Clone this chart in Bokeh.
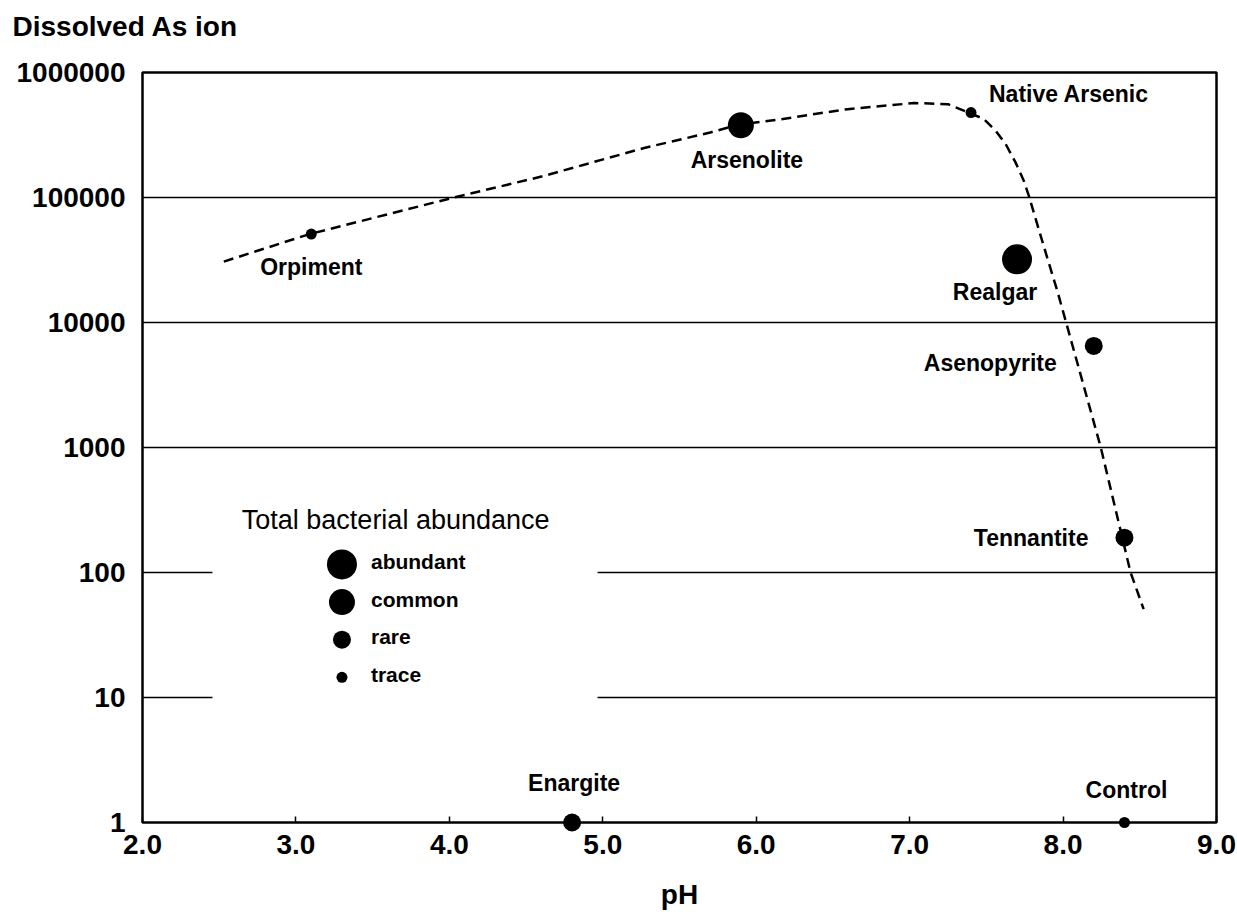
from bokeh.plotting import figure
from bokeh.models import FixedTicker, NumeralTickFormatter, Range1d, ColumnDataSource
from bokeh.core.properties import value
from bokeh.embed import file_html
from bokeh.resources import INLINE

# ---------------- data ----------------
minerals = ["Orpiment", "Arsenolite", "Native Arsenic", "Realgar",
            "Asenopyrite", "Tennantite", "Enargite", "Control"]
ph = [3.1, 5.9, 7.4, 7.7, 8.2, 8.4, 4.8, 8.4]
dissolved_as = [51000, 378000, 478000, 32000, 6500, 190, 1, 1]
abundance = ["trace", "common", "trace", "abundant", "rare", "rare", "rare", "trace"]

curve_ph = [2.53, 3.09, 4.03, 4.60, 5.27, 5.70, 5.89, 6.15, 6.58, 7.03,
            7.25, 7.385, 7.483, 7.56, 7.625, 7.69, 7.744, 7.777, 7.831,
            7.896, 7.962, 8.016, 8.245, 8.44, 8.525]
curve_as = [30700, 51000, 100000, 147000, 249000, 331000, 384000, 421000,
            506000, 570000, 558000, 478000, 425000, 343000, 269000, 191000,
            136000, 103000, 61500, 33200, 18000, 10400, 1010, 100, 51]

abundance_levels = ["abundant", "common", "rare", "trace"]
x_ticks = [2, 3, 4, 5, 6, 7, 8, 9]
y_ticks = [1, 10, 100, 1000, 10000, 100000, 1000000]
y_title = "Dissolved As ion"
x_title = "pH"

# ---------------- styles ----------------
FONT = "Liberation Sans"
level_size = {"abundant": 30, "common": 26, "rare": 18, "trace": 11}
label_align = ["center", "center", "left", "center", "right", "right", "center", "center"]
label_dx = [0, 6, 18, -22, -37, -36, 2, 2]
label_dy = [33, 35, -19, 33, 17, 0, -40, -33]

p = figure(width=1237, height=912,
           x_range=Range1d(2, 9), y_range=Range1d(1, 1e6), y_axis_type="log",
           output_backend="svg", toolbar_location=None,
           min_border_left=142, min_border_right=21,
           min_border_top=72, min_border_bottom=90)
p.background_fill_color = "white"
p.border_fill_color = "white"
p.outline_line_color = "black"
p.outline_line_width = 2.5

# axes
p.xaxis.ticker = FixedTicker(ticks=x_ticks)
p.xaxis.formatter = NumeralTickFormatter(format="0.0")
p.yaxis.ticker = FixedTicker(ticks=y_ticks)
p.yaxis.formatter = NumeralTickFormatter(format="0")
for ax in (p.xaxis, p.yaxis):
    ax.axis_line_color = None
    ax.minor_tick_line_color = None
    ax.major_label_text_font = FONT
    ax.major_label_text_font_style = "bold"
    ax.major_label_text_font_size = "28px"
    ax.major_label_text_color = "black"
p.xaxis.major_tick_in = 6
p.xaxis.major_tick_out = 0
p.xaxis.major_tick_line_width = 1.5
p.xaxis.major_tick_line_color = "black"
p.xaxis.major_label_standoff = 12
p.xaxis.axis_label = x_title
p.xaxis.axis_label_text_font = FONT
p.xaxis.axis_label_text_font_style = "bold"
p.xaxis.axis_label_text_font_size = "28px"
p.xaxis.axis_label_text_color = "black"
p.xaxis.axis_label_standoff = 22
p.yaxis.major_tick_line_color = None
p.yaxis.major_tick_in = 0
p.yaxis.major_tick_out = 0
p.yaxis.major_label_standoff = 17

p.xgrid.visible = False
p.ygrid.ticker = FixedTicker(ticks=y_ticks)
p.ygrid.grid_line_color = "black"
p.ygrid.grid_line_width = 1.5

# legend background (covers grid lines)
p.quad(left=[2.456], right=[4.966], bottom=[8], top=[500],
       fill_color="white", line_color=None)

# dashed trend curve
p.line(curve_ph, curve_as, line_color="black", line_width=2.5, line_dash="10 6")

# points
src = ColumnDataSource(dict(
    x=ph, y=dissolved_as, name=minerals,
    size=[level_size[a] for a in abundance],
    align=label_align, dx=label_dx, dy=label_dy,
))
p.scatter("x", "y", size="size", source=src, fill_color="black",
          line_color=None, level="overlay")
p.text("x", "y", text="name", source=src, text_align="align",
       text_baseline="middle", x_offset="dx", y_offset="dy",
       text_font=value(FONT), text_font_style="bold",
       text_font_size="23px", text_color="black")

# legend (manual, marker sizes by level)
leg_x = 3.3
leg_top = 116
leg_y = [leg_top / 2 ** i for i in range(len(abundance_levels))]
p.scatter([leg_x] * len(abundance_levels), leg_y,
          size=[level_size[a] for a in abundance_levels],
          fill_color="black", line_color=None)
p.text([leg_x] * len(abundance_levels), leg_y, text=abundance_levels,
       x_offset=29, y_offset=-3, text_align="left", text_baseline="middle",
       text_font=value(FONT), text_font_style="bold",
       text_font_size="21px", text_color="black")
p.text([3.65], [261], text=["Total bacterial abundance"],
       text_align="center", text_baseline="middle",
       text_font=value(FONT), text_font_size="27px", text_color="black")

# y-axis title at top-left, anchored to the frame's top-left corner
p.text([x_ticks[0]], [y_ticks[-1]], text=[y_title], x_offset=-130, y_offset=-46,
       text_align="left", text_baseline="middle", level="overlay",
       text_font=value(FONT), text_font_style="bold",
       text_font_size="28px", text_color="black")

open("out.html", "w").write(file_html(p, INLINE))
